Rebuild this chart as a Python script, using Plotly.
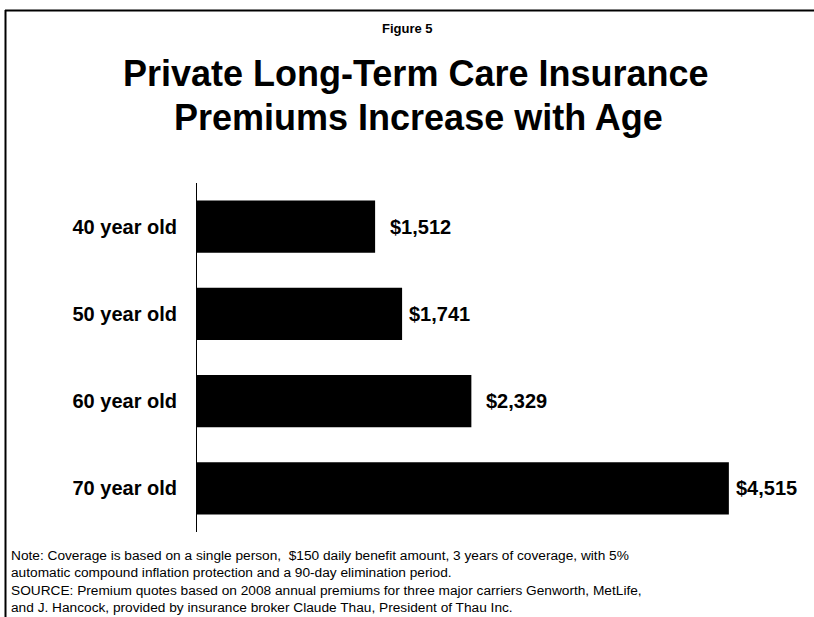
import plotly.graph_objects as go

categories = ["40 year old", "50 year old", "60 year old", "70 year old"]
premiums = [1512, 1741, 2329, 4515]
value_labels = ["$1,512", "$1,741", "$2,329", "$4,515"]

# label offsets (px) from bar end, as in the reference
label_shift = [13, 5, 13, 5]

W, H = 814, 617
L, R, T, B = 197, 28, 183, 85
PW = W - L - R
PH = H - T - B

def px_x(x):
    return (x - L) / PW

def px_y(y):
    return (H - B - y) / PH

FONT = "Liberation Sans, Arial, sans-serif"

fig = go.Figure(go.Bar(
    y=categories,
    x=premiums,
    orientation="h",
    marker=dict(color="black", line=dict(width=0)),
    width=0.6,
    cliponaxis=False,
    hoverinfo="skip",
))

fig.update_yaxes(
    autorange="reversed",
    showline=True, linecolor="black", linewidth=1,
    ticks="", showgrid=False, zeroline=False,
    tickfont=dict(family=FONT, size=20, color="black", weight="bold"),
    ticklabelstandoff=15,
)
fig.update_xaxes(range=[0, 5000], visible=False, showgrid=False, zeroline=False)

notes = [
    "Note: Coverage is based on a single person,  $150 daily benefit amount, 3 years of coverage, with 5%",
    "automatic compound inflation protection and a 90-day elimination period.",
    "SOURCE: Premium quotes based on 2008 annual premiums for three major carriers Genworth, MetLife,",
    "and J. Hancock, provided by insurance broker Claude Thau, President of Thau Inc.",
]
note_y = [555, 572, 590, 607]

annotations = [
    dict(text="<b>Figure 5</b>", x=px_x(407), y=px_y(28), xref="paper", yref="paper",
         xanchor="center", yanchor="middle", showarrow=False,
         font=dict(family=FONT, size=13, color="black")),
    dict(text="<b>Private Long-Term Care Insurance</b>",
         x=px_x(416), y=px_y(74), xref="paper", yref="paper",
         xanchor="center", yanchor="middle", showarrow=False,
         font=dict(family=FONT, size=36, color="black")),
    dict(text="<b>Premiums Increase with Age</b>",
         x=px_x(418), y=px_y(118), xref="paper", yref="paper",
         xanchor="center", yanchor="middle", showarrow=False,
         font=dict(family=FONT, size=36, color="black")),
]
for t, yy in zip(notes, note_y):
    annotations.append(dict(text=t, x=px_x(9), y=px_y(yy), xref="paper", yref="paper",
                            xanchor="left", yanchor="middle", showarrow=False, align="left",
                            font=dict(family=FONT, size=13.7, color="black")))
for cat, val, lab, sh in zip(categories, premiums, value_labels, label_shift):
    annotations.append(dict(text="<b>" + lab + "</b>", x=val, y=cat, xref="x", yref="y",
                            xanchor="left", yanchor="middle", xshift=sh, showarrow=False,
                            font=dict(family=FONT, size=20, color="black")))

shapes = [
    dict(type="line", xref="paper", yref="paper", x0=px_x(5), x1=px_x(W + 5),
         y0=px_y(10.5), y1=px_y(10.5), line=dict(color="black", width=2)),
    dict(type="line", xref="paper", yref="paper", x0=px_x(5.5), x1=px_x(5.5),
         y0=px_y(10), y1=px_y(H + 5), line=dict(color="black", width=2)),
]

fig.update_layout(
    width=W, height=H,
    margin=dict(l=L, r=R, t=T, b=B),
    paper_bgcolor="white", plot_bgcolor="white",
    showlegend=False,
    bargap=0.4,
    annotations=annotations,
    shapes=shapes,
    font=dict(family=FONT, color="black"),
)

fig.write_html(
    "out.html",
    config={"displayModeBar": False},
    post_script="document.body.style.margin='0';document.body.style.overflow='hidden';",
)
